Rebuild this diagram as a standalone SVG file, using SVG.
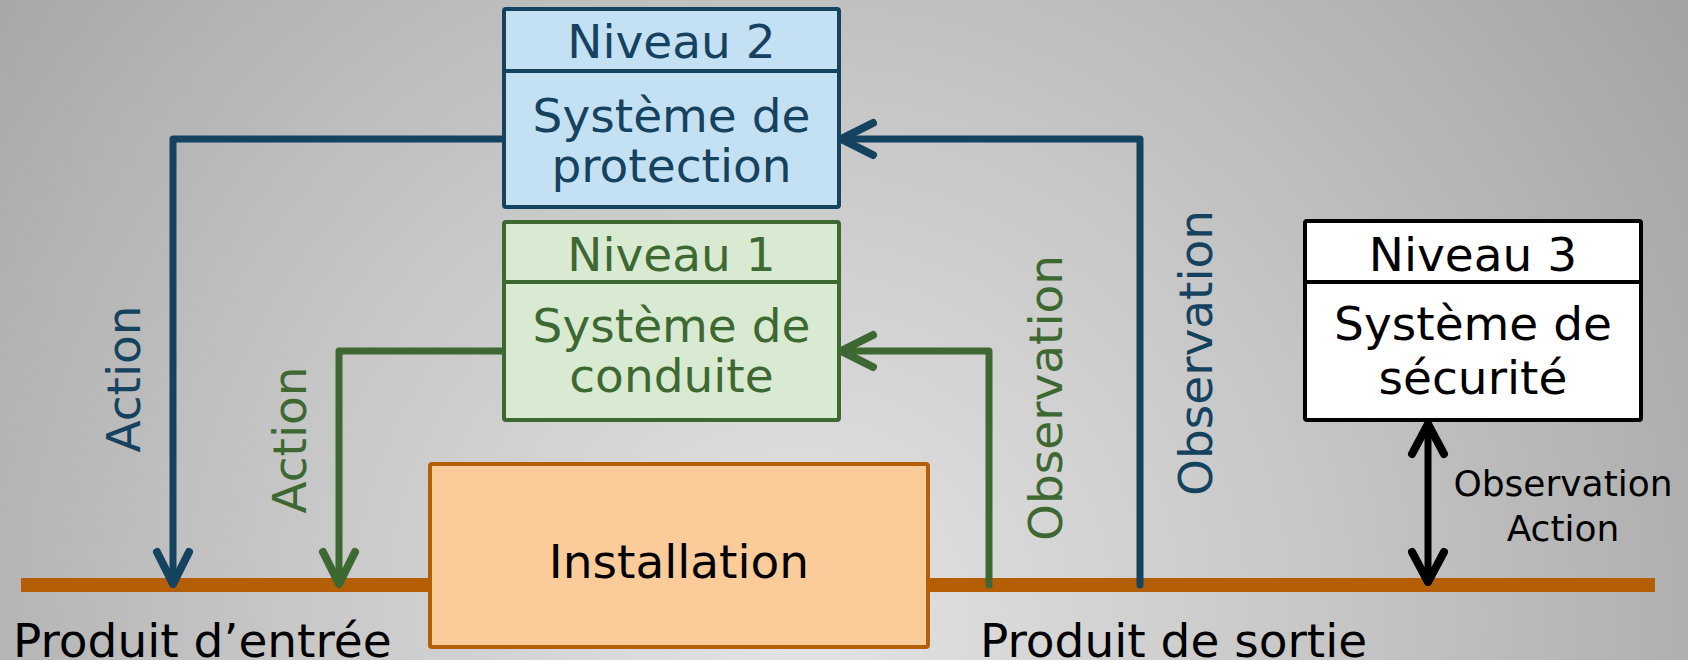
<svg xmlns="http://www.w3.org/2000/svg" width="1688" height="660" viewBox="0 0 1688 660">
<defs>
<radialGradient id="bg" gradientUnits="userSpaceOnUse" cx="800" cy="620" r="1060">
<stop offset="0" stop-color="#e4e4e4"/>
<stop offset="0.5" stop-color="#c6c6c6"/>
<stop offset="0.8" stop-color="#b2b2b2"/>
<stop offset="1" stop-color="#a4a4a4"/>
</radialGradient>
<marker id="arrBlue" markerUnits="userSpaceOnUse" orient="auto" refX="0" refY="0" markerWidth="40" markerHeight="40" style="overflow:visible">
<path d="M -32 -16 L 0 0 L -32 16" fill="none" stroke="#15425e" stroke-width="8" stroke-linecap="round" stroke-linejoin="round"/>
</marker>
<marker id="arrGreen" markerUnits="userSpaceOnUse" orient="auto" refX="0" refY="0" markerWidth="40" markerHeight="40" style="overflow:visible">
<path d="M -32 -16 L 0 0 L -32 16" fill="none" stroke="#3e6831" stroke-width="8" stroke-linecap="round" stroke-linejoin="round"/>
</marker>
<marker id="arrBlack" markerUnits="userSpaceOnUse" orient="auto-start-reverse" refX="0" refY="0" markerWidth="40" markerHeight="40" style="overflow:visible">
<path d="M -30 -16 L 0 0 L -30 16" fill="none" stroke="#000000" stroke-width="8" stroke-linecap="round" stroke-linejoin="round"/>
</marker>
</defs>
<style>
text { font-family: "DejaVu Sans", Verdana, sans-serif; font-size: 47px; text-anchor: middle; }
.blue { fill: #15425e; }
.green { fill: #3e6831; }
.black { fill: #000000; }
.small { font-size: 36px; }
.box { stroke-width: 4; stroke-linejoin: round; }
.div { stroke-width: 4; }
.conn { fill: none; stroke-width: 7; stroke-linecap: round; stroke-linejoin: round; }
</style>
<rect x="0" y="0" width="1688" height="660" fill="url(#bg)"/>

<g id="connectors">
<line x1="21" y1="585" x2="1655" y2="585" stroke="#b45f06" stroke-width="14"/>
<path class="conn" d="M 504 139 H 173 V 584" stroke="#15425e" marker-end="url(#arrBlue)"/>
<path class="conn" d="M 1140 585 V 139 H 841" stroke="#15425e" marker-end="url(#arrBlue)"/>
<path class="conn" d="M 504 351 H 339 V 584" stroke="#3e6831" marker-end="url(#arrGreen)"/>
<path class="conn" d="M 989 585 V 351 H 841" stroke="#3e6831" marker-end="url(#arrGreen)"/>
<path class="conn" d="M 1428 424 V 582" stroke="#000000" marker-start="url(#arrBlack)" marker-end="url(#arrBlack)"/>
<text class="blue" transform="translate(140,379) rotate(-90)">Action</text>
<text class="green" transform="translate(306,440) rotate(-90)">Action</text>
<text class="green" transform="translate(1062,398) rotate(-90)">Observation</text>
<text class="blue" transform="translate(1212,353) rotate(-90)">Observation</text>
<text class="black small" x="1563" y="496">Observation</text>
<text class="black small" x="1563" y="541">Action</text>
</g>

<g id="niveau2">
<rect class="box" x="504" y="9" width="335" height="198" rx="2" fill="#c4e0f3" stroke="#15425e"/>
<line class="div" x1="504" y1="71" x2="839" y2="71" stroke="#15425e"/>
<text class="blue" x="671.5" y="58">Niveau 2</text>
<text class="blue" x="671.5" y="132">Système de</text>
<text class="blue" x="671.5" y="182">protection</text>
</g>

<g id="niveau1">
<rect class="box" x="504" y="222" width="335" height="198" rx="2" fill="#d9ead3" stroke="#3e6831"/>
<line class="div" x1="504" y1="282" x2="839" y2="282" stroke="#3e6831"/>
<text class="green" x="671.5" y="271">Niveau 1</text>
<text class="green" x="671.5" y="342">Système de</text>
<text class="green" x="671.5" y="392">conduite</text>
</g>

<g id="niveau3">
<rect class="box" x="1305" y="221" width="336" height="199" rx="2" fill="#ffffff" stroke="#000000"/>
<line class="div" x1="1305" y1="282" x2="1641" y2="282" stroke="#000000"/>
<text class="black" x="1473" y="271">Niveau 3</text>
<text class="black" x="1473" y="340">Système de</text>
<text class="black" x="1473" y="394">sécurité</text>
</g>

<g id="installation">
<rect class="box" x="430" y="464" width="498" height="183" rx="2" fill="#fbcb9a" stroke="#b45f06"/>
<text class="black" x="679" y="578">Installation</text>
</g>

<g id="labels">
<text class="black" x="13" y="657" style="text-anchor:start">Produit d’entrée</text>
<text class="black" x="980" y="657" style="text-anchor:start">Produit de sortie</text>
</g>
</svg>
